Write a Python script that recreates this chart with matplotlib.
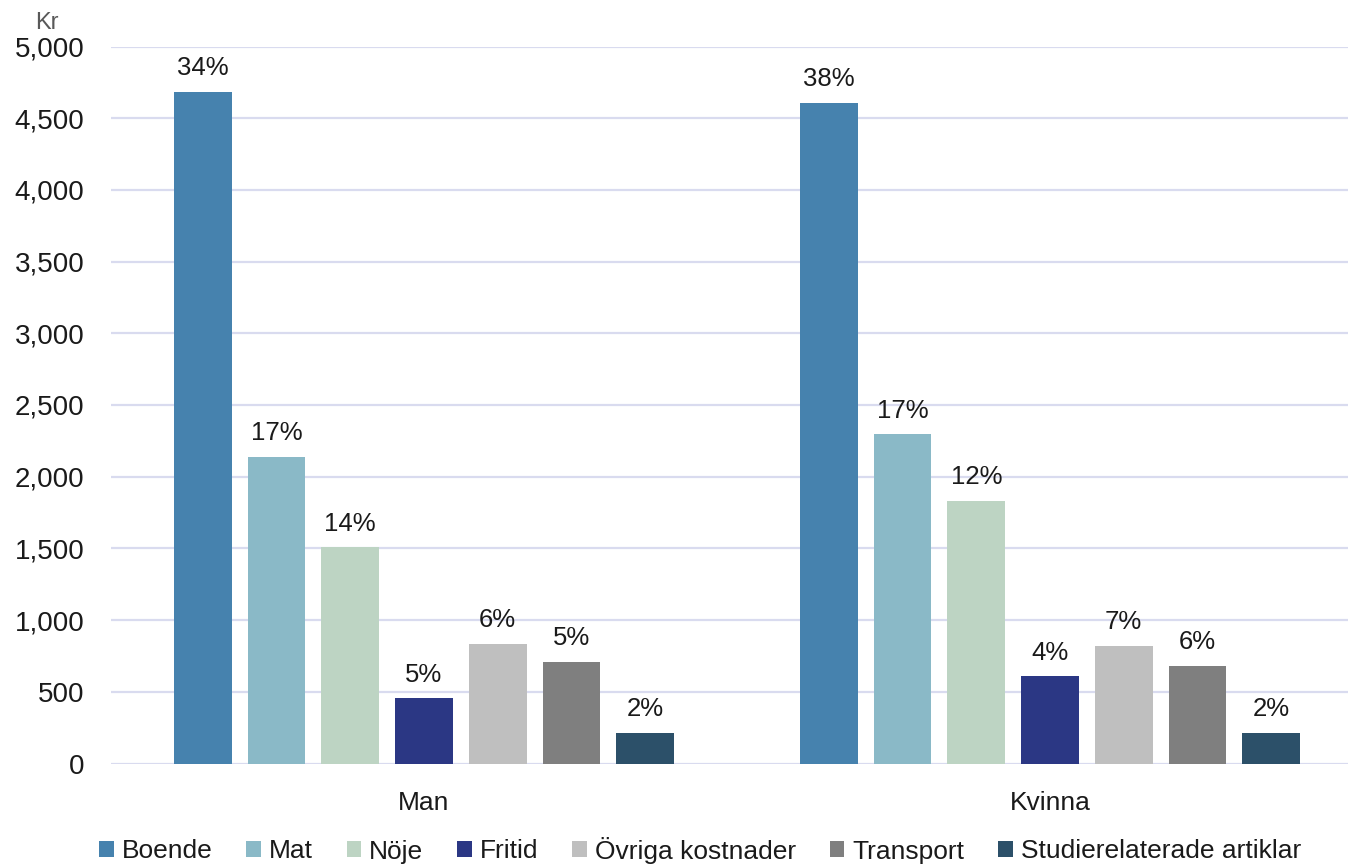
import numpy as np
import matplotlib
matplotlib.use("Agg")
import matplotlib.pyplot as plt

# Data
groups = ["Man", "Kvinna"]
categories = ["Boende", "Mat", "Nöje", "Fritid", "Övriga kostnader",
              "Transport", "Studierelaterade artiklar"]
man_values = [4685, 2140, 1508, 455, 834, 708, 216]
kvinna_values = [4605, 2296, 1832, 609, 820, 679, 216]
man_pct = ["34%", "17%", "14%", "5%", "6%", "5%", "2%"]
kvinna_pct = ["38%", "17%", "12%", "4%", "7%", "6%", "2%"]
yticks = [0, 500, 1000, 1500, 2000, 2500, 3000, 3500, 4000, 4500, 5000]

colors = ["#4682AE", "#8AB9C7", "#BDD4C3", "#2B3784",
          "#BFBFBF", "#7F7F7F", "#2C5069"]

plt.rcParams["font.family"] = ["Liberation Sans", "DejaVu Sans"]
text_color = "#1a1a1a"


def main():
    fig = plt.figure(figsize=(13.48, 8.65), dpi=100)
    W, H = 1348, 865
    # plot area in pixels: left 111, top 46.5, bottom 763.5, width 1252
    ax = fig.add_axes([111 / W, 1 - 763.5 / H, 1252 / W, (763.5 - 46.5) / H])

    values = np.array([man_values, kvinna_values])
    labels = [man_pct, kvinna_pct]
    x = np.arange(len(groups))
    pitch = 0.1178
    width = 0.0924
    n = len(categories)

    for i, cat in enumerate(categories):
        xpos = x + (i - (n - 1) / 2) * pitch
        bars = ax.bar(xpos, values[:, i], width=width, color=colors[i],
                      label=cat, zorder=3)
        for j, b in enumerate(bars):
            ax.annotate(labels[j][i], (b.get_x() + b.get_width() / 2, b.get_height()),
                        xytext=(0, 12), textcoords="offset points",
                        ha="center", va="baseline", fontsize=18.5, color=text_color)

    ax.set_xlim(-0.5, 1.5)
    ax.set_ylim(0, 5000)
    ax.set_yticks(yticks)
    ax.set_yticklabels([f"{v:,}" for v in yticks])
    ax.set_xticks(x)
    ax.set_xticklabels(groups)
    ax.tick_params(axis="y", length=0, pad=19, labelsize=20, labelcolor=text_color)
    ax.tick_params(axis="x", length=0, pad=20, labelsize=19, labelcolor=text_color)

    ax.grid(axis="y", color="#D9DBEF", linewidth=1.6, zorder=0)
    for s in ax.spines.values():
        s.set_visible(False)

    fig.text(35 / W, 1 - 29 / H, "Kr", fontsize=17, color="#595959",
             ha="left", va="baseline")

    fig.legend(loc="center", bbox_to_anchor=(700 / W, 1 - 850 / H), ncol=n,
               frameon=False, fontsize=19, handlelength=0.55, handleheight=0.55,
               handletextpad=0.3, columnspacing=1.29, labelcolor=text_color)

    fig.savefig("out.png", dpi=100)


main()
